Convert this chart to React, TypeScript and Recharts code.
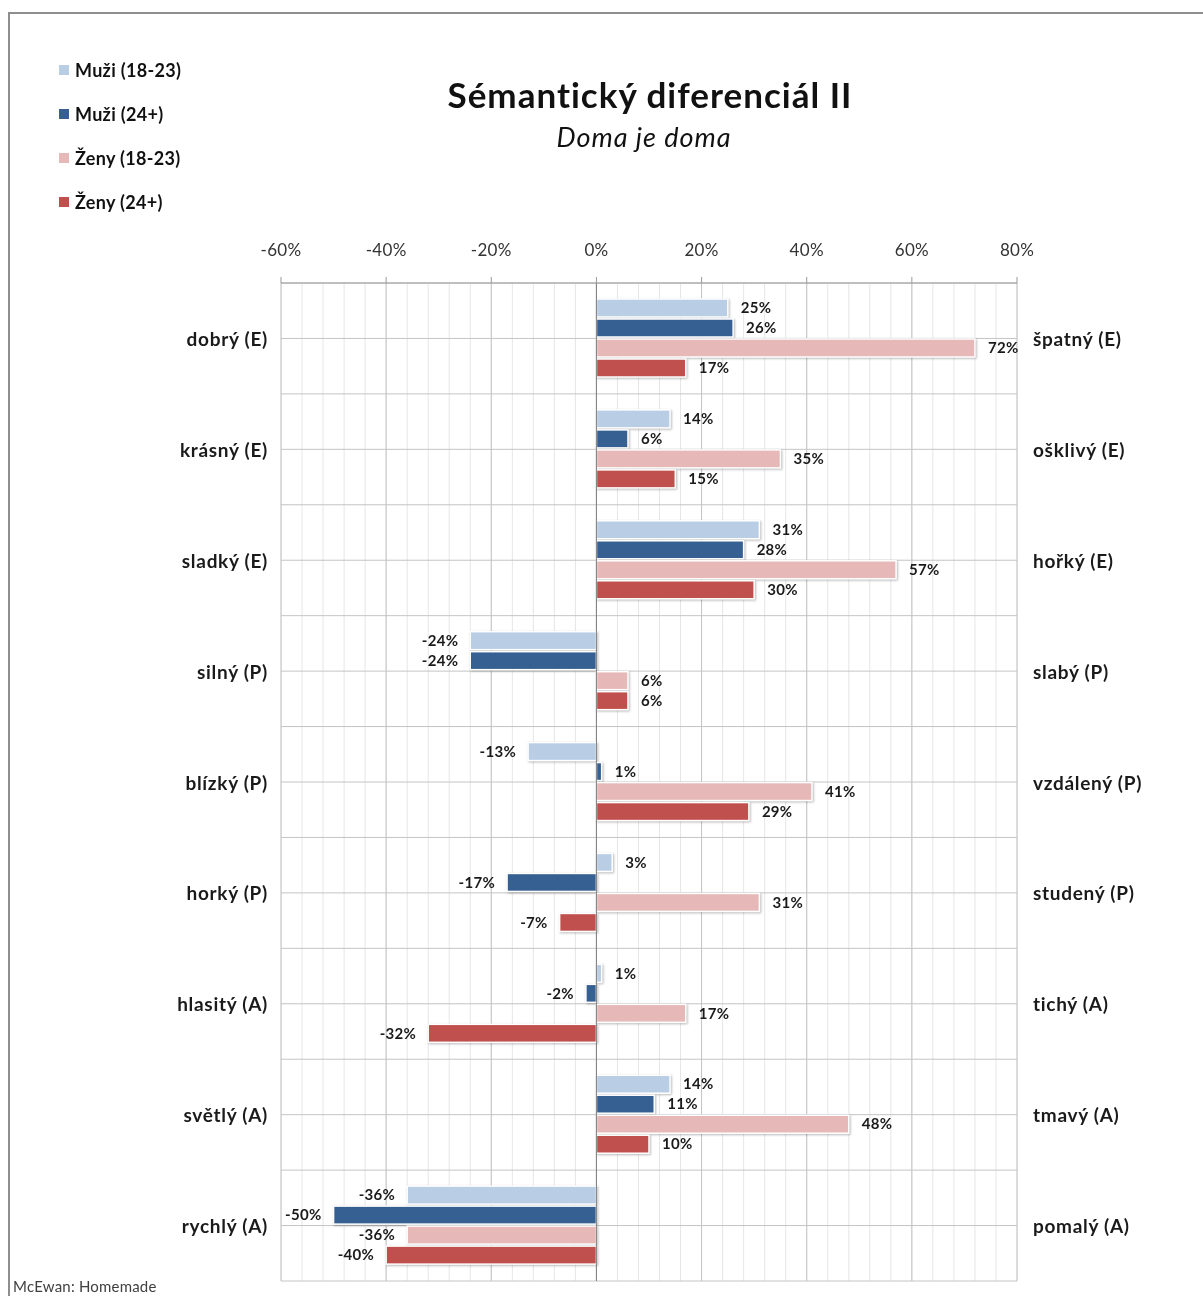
import React from 'react';
import { BarChart, Bar, XAxis, YAxis, CartesianGrid, ReferenceLine, LabelList } from 'recharts';

const leftLabels = ['dobrý (E)', 'krásný (E)', 'sladký (E)', 'silný (P)', 'blízký (P)', 'horký (P)', 'hlasitý (A)', 'světlý (A)', 'rychlý (A)'];
const rightLabels = ['špatný (E)', 'ošklivý (E)', 'hořký (E)', 'slabý (P)', 'vzdálený (P)', 'studený (P)', 'tichý (A)', 'tmavý (A)', 'pomalý (A)'];
const muzi1823 = [25, 14, 31, -24, -13, 3, 1, 14, -36];
const muzi24 = [26, 6, 28, -24, 1, -17, -2, 11, -50];
const zeny1823 = [72, 35, 57, 6, 41, 31, 17, 48, -36];
const zeny24 = [17, 15, 30, 6, 29, -7, -32, 10, -40];
const xTicks = [-60, -40, -20, 0, 20, 40, 60, 80];
const minorStep = 4;

const seriesNames = ['Muži (18-23)', 'Muži (24+)', 'Ženy (18-23)', 'Ženy (24+)'];
const seriesKeys = ['m1', 'm2', 'z1', 'z2'];
const seriesColors = ['#b9cde5', '#376092', '#e6b9b8', '#c0504d'];

const data = leftLabels.map((l, i) => ({
  left: l,
  right: rightLabels[i],
  m1: muzi1823[i],
  m2: muzi24[i],
  z1: zeny1823[i],
  z2: zeny24[i],
}));

const FONT = 'Lato, "Open Sans", sans-serif';
const DOMAIN: [number, number] = [xTicks[0], xTicks[xTicks.length - 1]];

const BarShape = (props: any) => {
  const { x, y, width, height, fill } = props;
  const l = Math.min(x, x + width);
  const w = Math.abs(width);
  return (
    <rect
      x={l}
      y={y}
      width={w}
      height={height}
      fill={fill}
      stroke="#ffffff"
      strokeWidth={1.5}
      style={{ filter: 'drop-shadow(1.5px 1.5px 1.2px rgba(0,0,0,0.28))' }}
    />
  );
};

const ValueLabel = (props: any) => {
  const { x, y, width, height, value } = props;
  const l = Math.min(x, x + width);
  const r = Math.max(x, x + width);
  const neg = value < 0;
  return (
    <text
      x={neg ? l - 12 : r + 13}
      y={y + height / 2}
      dy="0.35em"
      textAnchor={neg ? 'end' : 'start'}
      fontFamily={FONT}
      fontWeight={700}
      fontSize={15}
      letterSpacing={0.3}
      fill="#1a1a1a"
    >
      {value + '%'}
    </text>
  );
};

const XTick = (props: any) => {
  const { x, y, payload } = props;
  return (
    <text x={x} y={y} textAnchor="middle" fontFamily={FONT} fontSize={17} letterSpacing={0.3} fill="#333">
      {payload.value + '%'}
    </text>
  );
};

const LeftTick = (props: any) => {
  const { x, y, payload } = props;
  return (
    <text x={x} y={y} dy="0.4em" textAnchor="end" fontFamily={FONT} fontWeight={700} fontSize={19} letterSpacing={0.7} fill="#1a1a1a">
      {payload.value}
    </text>
  );
};

const RightTick = (props: any) => {
  const { x, y, payload } = props;
  return (
    <text x={x} y={y} dy="0.4em" textAnchor="start" fontFamily={FONT} fontWeight={700} fontSize={19} letterSpacing={0.7} fill="#1a1a1a">
      {payload.value}
    </text>
  );
};

const minorGen = (p: any) => {
  const off = p.offset;
  const res: number[] = [];
  for (let v = DOMAIN[0]; v <= DOMAIN[1]; v += minorStep) {
    res.push(off.left + ((v - DOMAIN[0]) / (DOMAIN[1] - DOMAIN[0])) * off.width);
  }
  return res;
};

const horizGen = (p: any) => {
  const off = p.offset;
  const n = data.length * 2;
  const res: number[] = [];
  for (let k = 0; k <= n; k++) res.push(off.top + (k * off.height) / n);
  return res;
};

export default function App() {
  return (
    <div style={{ position: 'relative', width: 1195, height: 1288, overflow: 'hidden', background: '#fff' }}>
      <div
        style={{
          position: 'fixed',
          left: 8,
          top: 12,
          right: 0,
          bottom: 0,
          borderLeft: '2px solid #8e8e8e',
          borderTop: '2px solid #8e8e8e',
          pointerEvents: 'none',
        }}
      />
      <div
        style={{
          position: 'absolute',
          left: 0,
          width: 1284,
          top: 65,
          textAlign: 'center',
          fontFamily: FONT,
          fontWeight: 700,
          fontSize: 35,
          letterSpacing: 1,
          color: '#111',
          lineHeight: '42px',
        }}
      >
        Sémantický diferenciál II
      </div>
      <div
        style={{
          position: 'absolute',
          left: 0,
          width: 1272,
          top: 112,
          textAlign: 'center',
          fontFamily: FONT,
          fontStyle: 'italic',
          fontSize: 27,
          letterSpacing: 1,
          color: '#111',
          lineHeight: '34px',
        }}
      >
        Doma je doma
      </div>
      {seriesNames.map((n, i) => (
        <div
          key={n}
          style={{
            position: 'absolute',
            left: 51,
            top: 62 + i * 44 - 12,
            height: 24,
            display: 'flex',
            alignItems: 'center',
            fontFamily: FONT,
            fontWeight: 700,
            fontSize: 18,
            letterSpacing: 0.3,
            color: '#111',
          }}
        >
          <span style={{ display: 'inline-block', width: 10, height: 10, background: seriesColors[i], marginRight: 6 }} />
          {n}
        </div>
      ))}
      <div
        style={{
          position: 'absolute',
          left: 5,
          top: 1269,
          fontFamily: FONT,
          fontSize: 15,
          letterSpacing: 0.2,
          color: '#404040',
          lineHeight: '18px',
        }}
      >
        McEwan: Homemade
      </div>
      <div style={{ position: 'absolute', left: 0, top: 0 }}>
        <BarChart
          width={1195}
          height={1288}
          data={data}
          layout="vertical"
          margin={{ top: 235, left: 73, right: 36, bottom: 15 }}
          barSize={18}
          barGap={2}
        >
          <CartesianGrid horizontal={false} vertical={true} stroke="#e6e6e6" verticalCoordinatesGenerator={minorGen} />
          <CartesianGrid horizontal={true} vertical={true} stroke="#c4c4c4" horizontalCoordinatesGenerator={horizGen} />
          <XAxis
            type="number"
            orientation="top"
            domain={DOMAIN}
            ticks={xTicks}
            height={40}
            axisLine={{ stroke: '#9a9a9a' }}
            tickLine={{ stroke: '#9a9a9a' }}
            tickSize={6}
            tickMargin={21}
            tick={<XTick />}
            allowDataOverflow
          />
          <YAxis
            yAxisId="left"
            type="category"
            dataKey="left"
            orientation="left"
            width={200}
            axisLine={false}
            tickLine={false}
            tickSize={0}
            tickMargin={13}
            tick={<LeftTick />}
            interval={0}
          />
          <YAxis
            yAxisId="right"
            type="category"
            dataKey="right"
            orientation="right"
            width={150}
            axisLine={false}
            tickLine={false}
            tickSize={0}
            tickMargin={16}
            tick={<RightTick />}
            interval={0}
          />
          <ReferenceLine yAxisId="left" x={0} stroke="#7f7f7f" strokeWidth={1} />
          {seriesKeys.map((k, i) => (
            <Bar
              key={k}
              yAxisId="left"
              dataKey={k}
              name={seriesNames[i]}
              fill={seriesColors[i]}
              shape={<BarShape />}
              isAnimationActive={false}
            >
              <LabelList dataKey={k} content={<ValueLabel />} />
            </Bar>
          ))}
        </BarChart>
      </div>
    </div>
  );
}
